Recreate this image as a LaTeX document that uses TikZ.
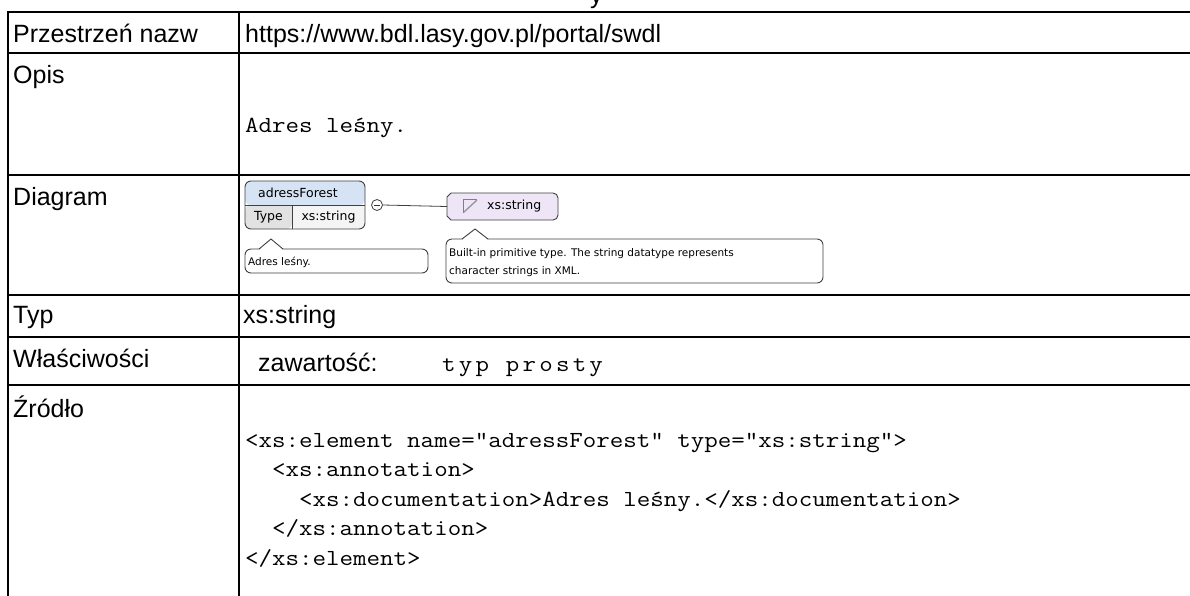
\documentclass[tikz,border=0pt]{standalone}
\usepackage{fontspec}
\setmainfont{Liberation Sans}
\newfontfamily\monof{Latin Modern Mono}[FakeStretch=1.14]
\newfontfamily\monosp{Latin Modern Mono}[FakeStretch=1.14,LetterSpace=14]
\newfontfamily\diaf{DejaVu Sans}
\begin{document}
\begin{tikzpicture}[x=1pt,y=-1pt,
  grid/.style={line width=2pt,black},
  lbl/.style={anchor=base west,inner sep=0pt,font=\fontsize{25}{30}\selectfont},
  code/.style={anchor=base west,inner sep=0pt,font=\monof\fontsize{23}{28}\selectfont},
  dtext/.style={inner sep=0pt,font=\diaf\fontsize{12.5}{15}\selectfont},
  ntext/.style={anchor=base west,inner sep=0pt,font=\diaf\fontsize{10.5}{13}\selectfont},
  bord/.style={draw=black!75,line width=0.9pt}]
\useasboundingbox (0,0) rectangle (1190,595);
\fill[white] (0,0) rectangle (1190,595);
% clipped glyph at top
\node[lbl] (topy) at (590,3) {y};
% table grid
\foreach \yy in {12,53,175,295,337,385} \draw[grid] (7,\yy) -- (1192,\yy);
\draw[grid] (8,11) -- (8,597);
\draw[grid] (239,11) -- (239,597);
% labels
\node[lbl] (l1) at (13,42) {Przestrzeń nazw};
\node[lbl] (v1) at (245,42) {https://www.bdl.lasy.gov.pl/portal/swdl};
\node[lbl] (l2) at (13,83) {Opis};
\node[code] (v2) at (245,132) {Adres leśny.};
\node[lbl] (l3) at (13,205) {Diagram};
\node[lbl] (l4) at (13,323) {Typ};
\node[lbl] (v4) at (243,323) {xs:string};
\node[lbl] (l5) at (13,367) {Właściwości};
\node[lbl] (v5a) at (258,371) {zawartość:};
\node[code,font=\monosp\fontsize{23}{28}\selectfont] (v5b) at (442,371) {typ prosty};
\node[lbl] (l6) at (13,417) {Źródło};
\node[code] (c1) at (245,447) {<xs:element name=“adressForest” type=“xs:string”>};
\node[code] (c2) at (245,476.5) {\ \ <xs:annotation>};
\node[code] (c3) at (245,506) {\ \ \ \ <xs:documentation>Adres leśny.</xs:documentation>};
\node[code] (c4) at (245,535.5) {\ \ </xs:annotation>};
\node[code] (c5) at (245,565) {</xs:element>};
% ---------- diagram ----------
% element box
\fill[fill={rgb,255:red,214;green,227;blue,245},rounded corners=6pt] (245,205) -- (245,181) -- (365,181) -- (365,205) -- cycle;
\fill[fill={rgb,255:red,226;green,226;blue,226},rounded corners=6pt] (245,205) -- (245,229) -- (292,229) -- (292,205) -- cycle;
\fill[fill={rgb,255:red,244;green,244;blue,244},rounded corners=6pt] (292,205) -- (292,229) -- (365,229) -- (365,205) -- cycle;
\fill[fill={rgb,255:red,226;green,226;blue,226}] (250,205) rectangle (292,222);
\fill[fill={rgb,255:red,244;green,244;blue,244}] (292,205) rectangle (358,222);
\draw[bord,rounded corners=6pt] (245,181) rectangle (365,229);
\draw[bord] (245,205) -- (365,205);
\draw[bord] (292,205) -- (292,229);
\node[dtext] (ename) at (298,193) {adressForest};
\node[dtext] (etype) at (268.5,217.5) {Type};
\node[dtext] (etval) at (328.5,217.5) {xs:string};
% minus circle
\node[circle,draw=black!75,fill=white,line width=0.8pt,minimum size=11pt,inner sep=0pt] (minus) at (377,205) {};
\draw[black!80,line width=0.8pt] (374.3,205) -- (379.7,205);
% simple type box
\coordinate (stypeW) at (447,206.5);
\draw[bord,fill={rgb,255:red,238;green,230;blue,246}] (447,197) -- (451,193) [rounded corners=5pt] -- (558,193) -- (558,220) [sharp corners] -- (451,220) -- (447,216) -- cycle;
\draw[black!50,line width=0.8pt] (463,213) -- (463,199) -- (477,199);
\draw[black!40,line width=1.4pt] (464,212) -- (477,200);
\node[dtext,anchor=west] (sname) at (487,206.5) {xs:string};
\draw[black!75,line width=0.8pt] (minus.east) -- (stypeW);
% callout 1
\draw[bord,fill=white,rounded corners=6pt] (245,249) rectangle (428,273);
\fill[white] (259,250) -- (271,239) -- (283,250) -- cycle;
\draw[bord] (259,249) -- (271,239) -- (283,249);
\node[ntext] (n1) at (248,265.5) {Adres leśny.};
% callout 2
\draw[bord,fill=white,rounded corners=6pt] (446,239) rectangle (823,283);
\fill[white] (462,240) -- (475,229) -- (488,240) -- cycle;
\draw[bord] (462,239) -- (475,229) -- (488,239);
\node[ntext] (n2a) at (449,256) {Built-in primitive type. The string datatype represents};
\node[ntext] (n2b) at (449,274) {character strings in XML.};
\end{tikzpicture}
\end{document}
